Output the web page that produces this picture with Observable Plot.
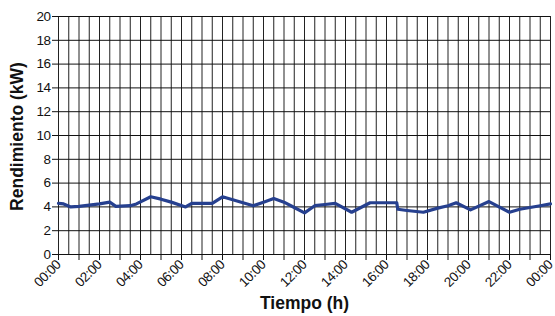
<!DOCTYPE html>
<html>
<head>
<meta charset="utf-8">
<script src="https://cdn.jsdelivr.net/npm/d3@7"></script>
<script src="https://cdn.jsdelivr.net/npm/@observablehq/plot@0.6"></script>
<style>
  html, body { margin: 0; padding: 0; background: #fff; }
  #chart svg { display: block; }
  #chart g[aria-label="x-axis tick label"] text,
  #chart g[aria-label="y-axis tick label"] text { letter-spacing: -0.5px; }
</style>
</head>
<body>
<div id="chart"></div>
<script>
// Time of day in hours (0 = 00:00, 24 = next 00:00)
const hours = [0, 0.25, 0.6, 1, 1.5, 2, 2.5, 2.8, 3.5, 3.8, 4.5, 5, 5.5, 6.2, 6.5, 7.5, 8.0, 8.5, 9.0, 9.5, 10, 10.5, 11, 11.5, 12.0, 12.5, 13.0, 13.5, 14.3, 15.2, 16.5, 16.55, 17.0, 17.8, 18.5, 19.0, 19.4, 20.1, 21.0, 22.0, 22.5, 23.0, 23.5, 24];
// Power output (kW)
const power = [4.3, 4.25, 4.0, 4.05, 4.15, 4.25, 4.4, 4.05, 4.1, 4.25, 4.85, 4.65, 4.4, 4.0, 4.3, 4.3, 4.85, 4.6, 4.35, 4.1, 4.4, 4.7, 4.4, 3.95, 3.5, 4.1, 4.2, 4.3, 3.55, 4.35, 4.35, 3.8, 3.7, 3.55, 3.9, 4.1, 4.35, 3.75, 4.45, 3.55, 3.8, 3.95, 4.1, 4.25];

const yTicks = [0, 2, 4, 6, 8, 10, 12, 14, 16, 18, 20];
const xTickHours = [0, 2, 4, 6, 8, 10, 12, 14, 16, 18, 20, 22, 24];
const xTickLabels = ["00:00", "02:00", "04:00", "06:00", "08:00", "10:00", "12:00", "14:00", "16:00", "18:00", "20:00", "22:00", "00:00"];
const xTitle = "Tiempo (h)";
const yTitle = "Rendimiento (kW)";

const data = hours.map((h, i) => ({h, v: power[i]}));
const hourTicks = d3.range(0, 24.001, 1);
const halfHourGrid = d3.range(0, 24.001, 0.5);
const labelFor = h => { const i = xTickHours.indexOf(h); return i >= 0 ? xTickLabels[i] : ""; };

const font = "'Liberation Sans', Arial, Helvetica, sans-serif";

const chart = Plot.plot({
  width: 555,
  height: 316,
  marginLeft: 58,
  marginRight: 5,
  marginTop: 16,
  marginBottom: 62,
  style: { fontFamily: font, fontSize: "13.5px", color: "#111", background: "#fff" },
  x: { type: "linear", domain: [0, 24] },
  y: { domain: [0, 20] },
  marks: [
    Plot.ruleX(halfHourGrid, { stroke: "#222", strokeWidth: 1 }),
    Plot.ruleY(yTicks, { stroke: "#111", strokeWidth: 1 }),
    Plot.axisY({ ticks: yTicks, tickSize: 6, tickPadding: 2, label: null, fontSize: 13.5, stroke: "#111" }),
    Plot.axisX({ ticks: hourTicks, tickSize: 6, tickPadding: 2, tickRotate: -45, tickFormat: labelFor, label: null, fontSize: 13.5, stroke: "#111" }),
    Plot.line(data, { x: "h", y: "v", stroke: "#26408f", strokeWidth: 3.2, strokeLinejoin: "round", strokeLinecap: "round" }),
    Plot.text([xTitle], { frameAnchor: "bottom", dy: 49, lineAnchor: "middle", textAnchor: "middle", fontSize: 17.5, fontWeight: "bold", fontFamily: font, fill: "#111" }),
    Plot.text([yTitle], { frameAnchor: "left", dx: -41, dy: 1, rotate: -90, lineAnchor: "middle", textAnchor: "middle", fontSize: 17.5, fontWeight: "bold", fontFamily: font, fill: "#111" })
  ]
});
document.getElementById("chart").appendChild(chart);
</script>
</body>
</html>
